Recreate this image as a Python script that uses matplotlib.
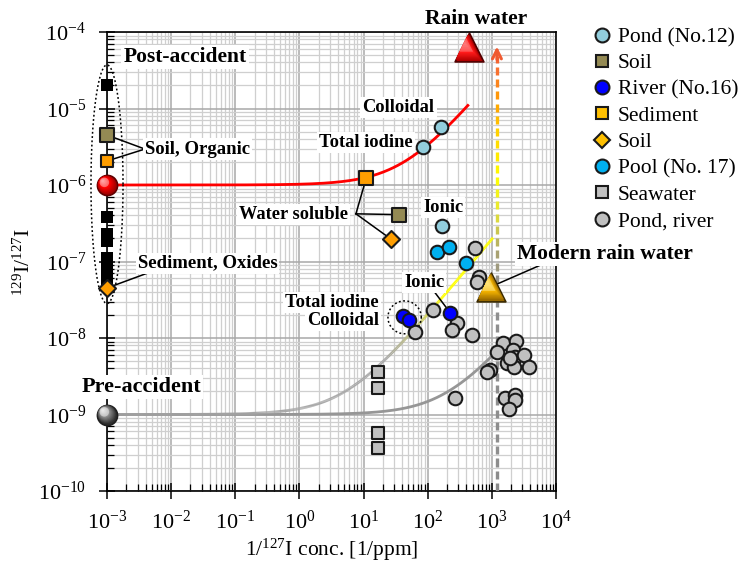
import numpy as np
import matplotlib
matplotlib.use("Agg")
import matplotlib.pyplot as plt
from matplotlib import transforms
from matplotlib.collections import LineCollection
from matplotlib.colors import to_rgb
from matplotlib.lines import Line2D

plt.rcParams.update({
    "font.family": ["Liberation Serif", "DejaVu Serif"],
    "mathtext.fontset": "custom",
    "mathtext.rm": "Liberation Serif",
    "mathtext.it": "Liberation Serif:italic",
    "mathtext.bf": "Liberation Serif:bold",
    "axes.unicode_minus": False,
})

# ---------------- data ----------------
# end members (x = 1/127I conc. [1/ppm], y = 129I/127I)
post_x, post_y = 1e-3, 1.0e-6
pre_x, pre_y = 1e-3, 1.0e-9

# far ends of the binary mixing lines
red_end = (437, 1.13e-5)
gray_hi_end = (1040, 2.04e-7)
gray_lo_end = (1040, 6.0e-9)

# post-accident solid-phase samples plotted at x = 1e-3
black_x = [1e-3] * 8
black_y = [2.03e-5, 3.8e-7, 2.3e-7, 1.85e-7, 1.1e-7, 8.7e-8, 6.9e-8, 5.7e-8]
soil_org_x, soil_org_y = [1e-3], [4.5e-6]
sed_org_x, sed_org_y = [1e-3], [2.06e-6]
soil_ox_x, soil_ox_y = [1e-3], [4.5e-8]

# Pond (No.12): colloidal, total iodine, ionic
pond12_x = [162, 85, 166]
pond12_y = [5.7e-6, 3.15e-6, 2.9e-7]
# water-soluble fractions
soil_ws_x, soil_ws_y = [35.5], [4.1e-7]
sed_ws_x, sed_ws_y = [11.0], [1.23e-6]
soil_dia_x, soil_dia_y = [27.0], [1.95e-7]
# River (No.16): total iodine, colloidal, ionic
river_x = [41, 52, 224]
river_y = [1.94e-8, 1.72e-8, 2.14e-8]
# Pool (No. 17)
pool_x = [140, 214, 398]
pool_y = [1.33e-7, 1.55e-7, 9.5e-8]
# Seawater
sea_x = [16.8, 16.8, 16.8, 16.8]
sea_y = [3.6e-9, 2.2e-9, 5.7e-10, 3.6e-10]
# Pond, river
pr_x = [546, 631, 588, 121, 287, 239, 63.4, 491, 267,
        1490, 2380, 1200, 2140, 2300, 3170, 1720, 2210, 3790,
        935, 841, 1600, 2300, 2300, 1850, 1920]
pr_y = [1.50e-7, 6.27e-8, 5.39e-8, 2.32e-8, 1.57e-8, 1.27e-8, 1.20e-8, 1.09e-8, 1.64e-9,
        8.6e-9, 9.1e-9, 6.6e-9, 7.0e-9, 5.6e-9, 6.0e-9, 4.7e-9, 4.2e-9, 4.2e-9,
        3.8e-9, 3.6e-9, 1.64e-9, 1.80e-9, 1.55e-9, 1.18e-9, 5.5e-9]
# rain water
rain_x, rain_y = 437, 6.3e-5
modern_rain_x, modern_rain_y = 980, 4.7e-8
arrow_x = 1.2e3

legend_labels = ["Pond (No.12)", "Soil", "River (No.16)", "Sediment", "Soil",
                 "Pool (No. 17)", "Seawater", "Pond, river"]

# ---------------- colours ----------------
C_POND12 = "#92CDDC"
C_SOIL = "#948A54"
C_RIVER = "#0000FF"
C_SED = "#FF9E00"
C_POOL = "#00B0F0"
C_GRAY = "#C0C0C0"
EDGE = "#1a1a1a"

fig = plt.figure(figsize=(7.45, 5.63), dpi=100)
ax = fig.add_axes([107 / 745, 1 - 491 / 563, 449 / 745, 459 / 563])
ax.set_xscale("log")
ax.set_yscale("log")
ax.set_xlim(1e-3, 1e4)
ax.set_ylim(1e-10, 1e-4)
ax.set_axisbelow(True)

ax.grid(True, which="major", color="#a8a8a8", lw=1.1)
ax.grid(True, which="minor", color="#cfcfcf", lw=0.9)
for sp in ax.spines.values():
    sp.set_linewidth(1.2)
ax.xaxis.set_major_locator(matplotlib.ticker.LogLocator(base=10, numticks=20))
ax.yaxis.set_major_locator(matplotlib.ticker.LogLocator(base=10, numticks=20))
ax.xaxis.set_minor_locator(matplotlib.ticker.LogLocator(base=10, subs=np.arange(2, 10), numticks=40))
ax.yaxis.set_minor_locator(matplotlib.ticker.LogLocator(base=10, subs=np.arange(2, 10), numticks=40))
ax.xaxis.set_minor_formatter(matplotlib.ticker.NullFormatter())
ax.yaxis.set_minor_formatter(matplotlib.ticker.NullFormatter())
ax.tick_params(which="major", direction="inout", length=12, width=1.1, labelsize=16, pad=4)
ax.tick_params(which="minor", direction="in", length=5, width=0.9)
ax.tick_params(axis="x", which="major", pad=8)
ax.tick_params(axis="y", which="major", pad=9)

ax.set_xlabel(r"1/$^{127}$I conc. [1/ppm]", fontsize=15.5, labelpad=2)
ax.set_ylabel(r"$^{129}$I/$^{127}$I", fontsize=15.5, labelpad=2)


def mix(c0, c1, f):
    a, b = np.array(to_rgb(c0)), np.array(to_rgb(c1))
    return tuple(a + (b - a) * f)


def mixing_line(p0, p1, n=400):
    xs = np.logspace(np.log10(p0[0]), np.log10(p1[0]), n)
    t = (xs - p0[0]) / (p1[0] - p0[0])
    return xs, p0[1] + t * (p1[1] - p0[1])


def color_ramp(vals, stops):
    pos = [s[0] for s in stops]
    rgb = np.array([to_rgb(s[1]) for s in stops])
    return np.stack([np.interp(vals, pos, rgb[:, k]) for k in range(3)], axis=1)


# mixing lines
xs, ys = mixing_line((post_x, post_y), red_end)
ax.plot(xs, ys, color="#FF0000", lw=2.0, zorder=3, solid_capstyle="butt")

xs, ys = mixing_line((pre_x, pre_y), gray_lo_end)
ax.plot(xs, ys, color="#969696", lw=2.0, zorder=3)

xs, ys = mixing_line((pre_x, pre_y), gray_hi_end)
pts = np.column_stack([xs, ys]).reshape(-1, 1, 2)
segs = np.concatenate([pts[:-1], pts[1:]], axis=1)
mid = np.log10(0.5 * (xs[:-1] + xs[1:]))
cols = color_ramp(mid, [(-3, "#a0a0a0"), (1.35, "#a8a8a8"), (1.9, "#c8c870"), (2.25, "#ffff00"), (4, "#ffff00")])
ax.add_collection(LineCollection(segs, colors=cols, linewidths=2.0, zorder=3, capstyle="butt"))

# dashed vertical arrow with colour ramp
dash, gap = 0.105, 0.055
y_top = -4.32
starts = np.arange(-10.0, y_top, dash + gap)
dsegs = []
for s0 in starts:
    s1 = min(s0 + dash, y_top)
    dsegs.append([(arrow_x, 10 ** s0), (arrow_x, 10 ** s1)])
ramp = color_ramp(starts + dash / 2, [(-10, "#8c8c8c"), (-7.3, "#909090"), (-6.9, "#a9a272"),
                                      (-6.3, "#e8e830"), (-5.9, "#ffff00"), (-5.3, "#ffd000"),
                                      (-4.9, "#ffa000"), (-4.5, "#f87030"), (-4.2, "#f05a30")])
ax.add_collection(LineCollection(dsegs, colors=ramp, linewidths=2.4, zorder=3, capstyle="butt"))
ax.annotate("", xy=(arrow_x, 10 ** -4.19), xytext=(arrow_x, 10 ** -4.36),
            arrowprops=dict(arrowstyle="->", color="#f05a30", lw=2.2, mutation_scale=16,
                            shrinkA=0, shrinkB=0), zorder=4)

# dotted enclosures (drawn in log space)
t = np.linspace(0, 2 * np.pi, 200)
ax.plot(10 ** (np.log10(post_x) + 0.25 * np.cos(t)), 10 ** (-5.99 + 1.56 * np.sin(t)),
        ls=(0, (1.2, 1.6)), color="black", lw=1.1, zorder=4, clip_on=False)
ax.plot(10 ** (1.64 + 0.26 * np.cos(t)), 10 ** (-7.73 + 0.215 * np.sin(t)),
        ls=(0, (1.2, 1.6)), color="black", lw=1.1, zorder=4)

# leader lines
lk = dict(color="black", lw=1.1, zorder=4, clip_on=False)
jx, jy = 3.9e-3, 2.95e-6
ax.plot([jx, soil_org_x[0]], [jy, soil_org_y[0]], **lk)
ax.plot([jx, sed_org_x[0]], [jy, sed_org_y[0]], **lk)
ax.plot([6.7e-3, soil_ox_x[0]], [8.1e-8, soil_ox_y[0]], **lk)
jx, jy = 7.6, 4.2e-7
ax.plot([jx, sed_ws_x[0]], [jy, sed_ws_y[0]], **lk)
ax.plot([jx, soil_ws_x[0]], [jy, soil_ws_y[0]], **lk)
ax.plot([jx, soil_dia_x[0]], [jy, soil_dia_y[0]], **lk)
ax.plot([10 ** 2.08, river_x[2]], [10 ** -7.37, river_y[2]], **lk)
ax.plot([10 ** 3.75, modern_rain_x], [10 ** -7.05, modern_rain_y], **lk)

# markers
mk = dict(edgecolors=EDGE, linewidths=1.5, zorder=6, clip_on=False)
ax.scatter(black_x, black_y, marker="s", s=80, c="black", edgecolors="black", linewidths=0,
           zorder=5, clip_on=False)
ax.scatter(soil_org_x, soil_org_y, marker="s", s=95, c=C_SOIL, **mk)
ax.scatter(sed_org_x, sed_org_y, marker="s", s=85, c=C_SED, **mk)
ax.scatter(soil_ox_x, soil_ox_y, marker="D", s=75, c=C_SED, **mk)
ax.scatter(sea_x, sea_y, marker="s", s=85, c=C_GRAY, **mk)
ax.scatter(pr_x, pr_y, marker="o", s=95, c=C_GRAY, **mk)
ax.scatter(pond12_x, pond12_y, marker="o", s=95, c=C_POND12, **mk)
ax.scatter(soil_ws_x, soil_ws_y, marker="s", s=95, c=C_SOIL, **mk)
ax.scatter(sed_ws_x, sed_ws_y, marker="s", s=95, c=C_SED, **mk)
ax.scatter(soil_dia_x, soil_dia_y, marker="D", s=75, c=C_SED, **mk)
ax.scatter(pool_x, pool_y, marker="o", s=95, c=C_POOL, **mk)
ax.scatter(river_x, river_y, marker="o", s=95, c=C_RIVER, **mk)


def shaded(x, y, marker, s, stops, edge, z, shift=0.45):
    """Glossy marker: base shape plus stacked highlights toward the upper left."""
    ax.scatter([x], [y], marker=marker, s=s, c=[stops[0]], edgecolors=edge, linewidths=1.2,
               zorder=z, clip_on=False)
    r = np.sqrt(s) / 2
    n = 12
    for i in range(1, n):
        f = i / n
        col = mix(stops[1], stops[2], f) if f > 0.5 else mix(stops[0], stops[1], f * 2)
        off = transforms.offset_copy(ax.transData, fig=fig, x=-f * r * shift, y=f * r * shift, units="points")
        ax.scatter([x], [y], marker=marker, s=s * (1 - f) ** 1.6 * 0.92, c=[col], edgecolors="none",
                   zorder=z + 0.01 * i, transform=off, clip_on=False)


shaded(post_x, post_y, "o", 210, ("#a00000", "#ff0000", "#ffb0b0"), "#600000", 7)
shaded(pre_x, pre_y, "o", 210, ("#303030", "#8a8a8a", "#f0f0f0"), "#202020", 7)
shaded(rain_x, rain_y, "^", 430, ("#b00000", "#ff1a1a", "#ff8080"), "#500000", 7, shift=0.3)
shaded(modern_rain_x, modern_rain_y, "^", 430, ("#9a6a00", "#f0b000", "#ffe680"), "#3a2a00", 7, shift=0.3)

# text labels
bb = dict(facecolor="white", edgecolor="none", pad=1.5)
tk = dict(fontweight="bold", zorder=8, bbox=bb)
ax.text(0.0165, 4.7e-5, "Post-accident", fontsize=15.5, ha="center", va="center", **tk)
ax.text(3.9e-3, 2.95e-6, "Soil, Organic", fontsize=13.5, ha="left", va="center", **tk)
ax.text(3.0e-3, 9.5e-8, "Sediment, Oxides", fontsize=13.5, ha="left", va="center", **tk)
ax.text(3.4e-3, 2.3e-9, "Pre-accident", fontsize=16, ha="center", va="center", **tk)
ax.text(0.82, 4.1e-7, "Water soluble", fontsize=13.2, ha="center", va="center", **tk)
ax.text(35, 1.03e-5, "Colloidal", fontsize=13.3, ha="center", va="center", **tk)
ax.text(10 ** 1.77, 3.6e-6, "Total iodine", fontsize=13.3, ha="right", va="center", **tk)
ax.text(174, 5.1e-7, "Ionic", fontsize=13.3, ha="center", va="center", **tk)
ax.text(88, 5.3e-8, "Ionic", fontsize=13.3, ha="center", va="center", **tk)
ax.text(10 ** 1.24, 10 ** -7.53, "Total iodine", fontsize=13.3, ha="right", va="center", **tk)
ax.text(10 ** 1.24, 10 ** -7.775, "Colloidal", fontsize=13.3, ha="right", va="center", **tk)
ax.text(566, 1.48e-4, "Rain water", fontsize=15.5, ha="center", va="center", fontweight="bold",
        zorder=8, clip_on=False)
ax.text(2450, 1.26e-7, "Modern rain water", fontsize=15.5, ha="left", va="center", fontweight="bold",
        zorder=8, clip_on=False, bbox=bb)

# legend
def proxy(marker, color, ms):
    return Line2D([], [], ls="", marker=marker, mfc=color, mec=EDGE, mew=1.5, ms=ms)


handles = [proxy("o", C_POND12, 10), proxy("s", C_SOIL, 9), proxy("o", C_RIVER, 10),
           proxy("s", "#FFC000", 9), proxy("D", "#FFC000", 8.5), proxy("o", C_POOL, 10),
           proxy("s", C_GRAY, 9), proxy("o", C_GRAY, 10)]
fig.legend(handles, legend_labels, loc="upper left", bbox_to_anchor=(592 / 745, 1 - 27 / 563),
           frameon=False, fontsize=15.5, handlelength=0.9, handletextpad=0.3,
           labelspacing=0.29, borderpad=0, borderaxespad=0)

fig.savefig("out.png", dpi=100)
